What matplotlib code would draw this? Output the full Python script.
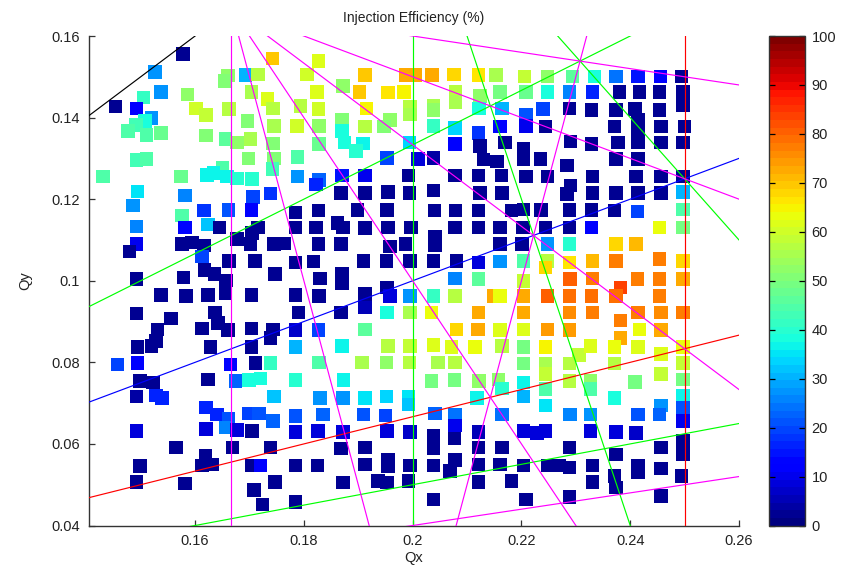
import matplotlib
matplotlib.use('Agg')
import matplotlib.pyplot as plt
import numpy as np

plt.rcParams['font.family'] = ['Liberation Sans', 'DejaVu Sans']

# ---- data: measured tunes and injection efficiency (%) ----
qx = [
 0.1578,0.1526,0.1742,0.1660,0.1655,0.1693,0.1716,0.1537,0.1505,0.1586,0.1704,0.1733,0.1454,0.1492,0.1602,0.1620,0.1662,0.1743,
 0.1520,0.1508,0.1491,0.1477,0.1511,0.1537,0.1696,0.1745,0.1787,0.1620,0.1656,0.1677,0.1702,0.1743,0.1788,0.1492,0.1511,0.1698,
 0.1745,0.1742,0.1650,0.1431,0.1574,0.1622,0.1634,0.1659,0.1677,0.1705,0.1788,0.1494,0.1581,0.1706,0.1739,
 0.1827,0.1806,0.1912,0.1987,0.2004,0.2036,0.2076,0.2121,0.2153,0.1824,0.1872,0.1902,0.1955,0.1984,0.2079,0.2124,0.2161,0.2079,
 0.1794,0.1827,0.1915,0.1995,0.1995,0.2038,0.2038,0.2122,0.2164,0.1828,0.1870,0.1870,0.1912,0.1958,0.1947,0.2038,0.2078,0.2121,
 0.2161,0.1828,0.1875,0.1909,0.1896,0.1994,0.2078,0.2124,0.2170,0.1953,0.2010,0.2038,0.2130,0.2155,0.1828,0.1822,0.1870,0.1912,
 0.1992,0.2078,0.2121,0.2163,0.1868,0.1912,0.1955,0.1994,0.2038,0.2124,0.2164,
 0.2206,0.2248,0.2294,0.2334,0.2374,0.2414,0.2456,0.2494,0.2208,0.2248,0.2288,0.2331,0.2380,0.2417,0.2454,0.2497,0.2208,0.2208,
 0.2240,0.2288,0.2329,0.2374,0.2409,0.2454,0.2497,0.2244,0.2371,0.2414,0.2414,0.2457,0.2500,0.2204,0.2204,0.2235,0.2290,0.2329,
 0.2378,0.2414,0.2457,0.2497,0.2284,0.2374,0.2414,0.2208,0.2248,0.2331,0.2411,0.2457,0.2497,0.2290,0.2284,0.2331,0.2374,0.2414,
 0.2457,0.2497,
 0.1486,0.1576,0.1616,0.1661,0.1704,0.1785,0.1492,0.1581,0.1624,0.1645,0.1705,0.1716,0.1785,0.1492,0.1479,0.1576,0.1594,0.1616,
 0.1613,0.1677,0.1702,0.1745,0.1764,0.1662,0.1710,0.1785,0.1492,0.1579,0.1617,0.1636,0.1657,0.1747,0.1537,0.1583,0.1624,0.1656,
 0.1704,0.1785,0.1492,0.1556,0.1637,0.1642,0.1613,0.1660,0.1531,0.1528,0.1494,0.1520,0.1628,0.1704,0.1743,0.1739,0.1785,0.1704,
 0.1785,0.1790,
 0.1457,0.1494,0.1665,0.1711,0.1739,0.1499,0.1523,0.1624,0.1674,0.1699,0.1720,0.1785,0.1492,0.1528,0.1539,0.1745,0.1620,0.1640,
 0.1661,0.1656,0.1699,0.1717,0.1743,0.1785,0.1492,0.1620,0.1677,0.1705,0.1785,0.1565,0.1669,0.1739,0.1619,0.1631,0.1613,0.1499,
 0.1705,0.1720,0.1785,0.1492,0.1581,0.1708,0.1747,0.1724,0.1785,
 0.1827,0.1899,0.1953,0.2040,0.2079,0.2121,0.2182,0.1862,0.1822,0.1872,0.1912,0.1955,0.1997,0.2078,0.2121,0.2161,0.2041,0.2041,
 0.1827,0.1868,0.1958,0.1987,0.2161,0.1818,0.1910,0.1952,0.1995,0.2038,0.2081,0.2121,0.2161,0.1830,0.1870,0.1870,0.2078,0.2121,
 0.1953,0.1828,0.1912,0.1958,0.1995,0.2038,0.2078,0.2150,0.2161,0.1868,0.1912,0.1953,0.1995,0.2035,0.2121,0.1827,0.1912,0.2081,
 0.2120,0.2161,0.1870,0.1955,0.1995,0.2038,0.2071,0.2115,0.2164,0.1828,0.1907,0.1952,0.1994,0.2047,0.2078,
 0.1873,0.2035,0.2077,0.2122,0.2158,0.1830,0.1872,0.1912,0.1952,0.1992,0.1992,0.2118,0.2164,0.1835,0.1910,0.1950,0.2041,0.2078,
 0.2078,0.2164,0.1826,0.1872,0.1953,0.1995,0.2038,0.2077,0.2121,0.1868,0.1912,0.2038,0.2121,0.2164,0.1825,0.1912,0.1955,0.1955,
 0.1995,0.2038,0.2078,0.2069,0.2121,0.2161,0.1872,0.1936,0.1953,0.1992,0.2121,0.2182,0.2038,
 0.2204,0.2236,0.2288,0.2329,0.2371,0.2413,0.2497,0.2203,0.2244,0.2288,0.2329,0.2454,0.2497,0.2201,0.2248,0.2288,0.2374,0.2411,
 0.2204,0.2248,0.2244,0.2288,0.2331,0.2374,0.2454,0.2497,0.2204,0.2289,0.2331,0.2382,0.2413,0.2454,0.2497,0.2204,0.2248,0.2288,
 0.2329,0.2374,0.2454,0.2204,0.2288,0.2331,0.2382,0.2414,0.2457,0.2497,0.2204,0.2248,0.2288,0.2382,0.2417,0.2457,0.2204,0.2244,
 0.2306,0.2327,0.2371,0.2414,0.2457,0.2497,0.2204,0.2244,0.2288,0.2371,
 0.2244,0.2288,0.2327,0.2327,0.2409,0.2457,0.2497,0.2497,0.2204,0.2244,0.2204,0.2244,0.2371,0.2497,0.2457,0.2497,0.2289,0.2327,
 0.2414,0.2454,0.2497,0.2204,0.2229,0.2244,0.2327,0.2374,0.2411,0.2288,0.2374,0.2457,0.2497,0.2497,0.2204,0.2248,0.2269,0.2288,
 0.2331,0.2371,0.2414,0.2414,0.2457,0.2494,0.2331,0.2374,0.2208,0.2288,0.2457,
]
qy = [
 0.1556,0.1512,0.1545,0.1503,0.1490,0.1504,0.1506,0.1463,0.1449,0.1457,0.1463,0.1446,0.1427,0.1422,0.1422,0.1406,0.1421,0.1422,
 0.1399,0.1391,0.1382,0.1367,0.1357,0.1362,0.1391,0.1379,0.1379,0.1356,0.1348,0.1339,0.1348,0.1337,0.1303,0.1296,0.1298,0.1300,
 0.1300,0.1274,0.1278,0.1255,0.1255,0.1259,0.1264,0.1255,0.1251,0.1249,0.1255,0.1219,0.1209,0.1205,0.1214,
 0.1539,0.1506,0.1504,0.1504,0.1504,0.1504,0.1506,0.1504,0.1504,0.1463,0.1478,0.1463,0.1462,0.1463,0.1463,0.1453,0.1463,0.1438,
 0.1428,0.1421,0.1422,0.1427,0.1408,0.1428,0.1418,0.1422,0.1422,0.1379,0.1394,0.1367,0.1378,0.1394,0.1378,0.1379,0.1375,0.1362,
 0.1378,0.1335,0.1339,0.1337,0.1318,0.1339,0.1335,0.1330,0.1339,0.1301,0.1298,0.1301,0.1297,0.1292,0.1247,0.1236,0.1258,0.1258,
 0.1258,0.1258,0.1258,0.1258,0.1215,0.1215,0.1217,0.1215,0.1221,0.1215,0.1215,
 0.1501,0.1501,0.1501,0.1501,0.1501,0.1501,0.1501,0.1501,0.1463,0.1463,0.1463,0.1463,0.1463,0.1463,0.1463,0.1463,0.1406,0.1379,
 0.1421,0.1422,0.1419,0.1419,0.1421,0.1419,0.1431,0.1378,0.1378,0.1394,0.1370,0.1378,0.1378,0.1323,0.1298,0.1298,0.1341,0.1335,
 0.1339,0.1339,0.1339,0.1339,0.1283,0.1298,0.1298,0.1255,0.1255,0.1255,0.1255,0.1255,0.1255,0.1234,0.1213,0.1215,0.1215,0.1215,
 0.1215,0.1217,
 0.1185,0.1160,0.1172,0.1173,0.1173,0.1167,0.1133,0.1131,0.1138,0.1131,0.1117,0.1131,0.1131,0.1090,0.1072,0.1090,0.1094,0.1086,
 0.1060,0.1102,0.1090,0.1090,0.1091,0.1049,0.1049,0.1045,0.1004,0.1008,0.1026,0.1016,0.1001,0.1016,0.0965,0.0963,0.0965,0.0969,
 0.0965,0.0965,0.0920,0.0908,0.0922,0.0897,0.0883,0.0879,0.0881,0.0852,0.0838,0.0840,0.0838,0.0883,0.0881,0.0860,0.0879,0.0838,
 0.0838,0.0922,
 0.0795,0.0798,0.0795,0.0798,0.0798,0.0754,0.0751,0.0758,0.0754,0.0757,0.0760,0.0757,0.0716,0.0719,0.0713,0.0716,0.0689,0.0672,
 0.0662,0.0640,0.0675,0.0675,0.0656,0.0668,0.0632,0.0637,0.0634,0.0632,0.0629,0.0591,0.0591,0.0591,0.0570,0.0550,0.0547,0.0546,
 0.0547,0.0547,0.0547,0.0506,0.0503,0.0487,0.0506,0.0452,0.0457,
 0.1172,0.1173,0.1173,0.1172,0.1172,0.1172,0.1172,0.1142,0.1131,0.1131,0.1129,0.1131,0.1131,0.1131,0.1131,0.1131,0.1107,0.1086,
 0.1090,0.1090,0.1084,0.1090,0.1090,0.1047,0.1049,0.1049,0.1049,0.1049,0.1049,0.1045,0.1047,0.1006,0.1016,0.0995,0.1006,0.1004,
 0.0983,0.0963,0.0967,0.0963,0.0963,0.0963,0.0963,0.0963,0.0963,0.0922,0.0934,0.0922,0.0922,0.0922,0.0922,0.0879,0.0881,0.0881,
 0.0881,0.0879,0.0840,0.0840,0.0840,0.0842,0.0838,0.0838,0.0840,0.0800,0.0800,0.0800,0.0800,0.0800,0.0800,
 0.0757,0.0754,0.0757,0.0754,0.0758,0.0713,0.0713,0.0713,0.0716,0.0716,0.0697,0.0713,0.0736,0.0672,0.0672,0.0670,0.0675,0.0672,
 0.0645,0.0672,0.0632,0.0629,0.0632,0.0629,0.0619,0.0613,0.0629,0.0589,0.0591,0.0589,0.0591,0.0591,0.0547,0.0550,0.0562,0.0546,
 0.0547,0.0547,0.0560,0.0533,0.0550,0.0550,0.0505,0.0509,0.0505,0.0509,0.0506,0.0509,0.0464,
 0.1175,0.1173,0.1173,0.1173,0.1172,0.1170,0.1175,0.1131,0.1131,0.1131,0.1131,0.1131,0.1131,0.1090,0.1090,0.1090,0.1090,0.1090,
 0.1049,0.1049,0.1033,0.1045,0.1049,0.1049,0.1053,0.1049,0.0999,0.1004,0.1006,0.0983,0.1004,0.1004,0.1004,0.0963,0.0963,0.0963,
 0.0963,0.0963,0.0963,0.0922,0.0922,0.0922,0.0903,0.0922,0.0922,0.0922,0.0881,0.0881,0.0879,0.0860,0.0881,0.0879,0.0837,0.0838,
 0.0818,0.0840,0.0838,0.0838,0.0820,0.0838,0.0797,0.0797,0.0797,0.0797,
 0.0771,0.0754,0.0754,0.0734,0.0752,0.0771,0.0798,0.0758,0.0751,0.0734,0.0716,0.0694,0.0713,0.0717,0.0694,0.0688,0.0672,0.0672,
 0.0672,0.0672,0.0656,0.0632,0.0627,0.0632,0.0632,0.0629,0.0627,0.0591,0.0574,0.0591,0.0607,0.0574,0.0547,0.0547,0.0547,0.0542,
 0.0547,0.0521,0.0547,0.0531,0.0540,0.0522,0.0506,0.0493,0.0464,0.0470,0.0472,
]
eff = [
 3,28,70,52,50,30,57,28,42,53,55,62,3,12,60,58,57,57,
 28,38,43,45,45,48,50,55,60,50,46,52,55,50,45,43,45,50,
 50,43,45,45,48,36,37,37,40,40,28,35,26,20,18,
 61,60,70,73,73,72,68,67,56,61,52,69,66,65,57,52,49,56,
 57,60,65,57,56,56,53,38,31,52,50,38,57,52,50,41,34,18,
 13,48,38,37,40,33,11,3,3,20,9,4,3,3,23,16,15,10,
 3,3,3,3,3,3,3,3,3,3,3,
 58,52,46,38,24,15,12,3,48,38,26,17,3,3,3,3,21,10,
 20,3,3,3,3,3,3,3,3,3,3,3,3,3,3,3,3,3,
 3,3,3,3,3,3,3,3,3,3,3,3,3,3,3,3,3,3,
 3,30,
 28,45,18,21,12,3,26,13,32,3,3,3,3,10,3,3,3,3,
 19,3,3,3,3,3,3,3,3,3,3,3,3,3,3,3,3,3,
 3,3,3,3,3,3,3,3,3,3,3,3,3,3,3,3,7,3,
 30,3,
 19,11,13,3,42,3,3,3,22,38,38,40,4,16,17,32,16,17,
 21,26,20,21,22,21,9,9,8,3,9,3,3,3,3,3,3,3,
 3,12,3,3,3,3,3,3,3,
 3,3,3,3,3,3,3,3,3,3,3,3,3,3,3,3,3,3,
 3,3,3,3,3,3,3,3,3,3,3,8,27,3,3,3,26,46,
 3,3,3,9,27,42,57,72,63,3,6,38,56,63,72,19,46,68,
 72,62,36,57,58,62,61,63,57,44,56,52,57,56,57,
 36,49,49,52,52,28,27,35,34,35,32,37,40,22,21,20,22,24,
 10,24,8,8,8,7,3,3,5,3,3,3,3,3,3,3,3,3,
 3,3,3,3,3,3,3,3,3,3,3,3,3,
 3,3,3,3,3,19,45,3,3,3,12,63,49,3,28,40,68,71,
 44,57,68,67,71,78,77,68,58,81,78,83,78,77,73,72,80,79,
 79,79,78,72,76,77,77,77,76,78,62,74,74,72,63,72,49,65,
 58,62,63,62,62,63,49,56,57,57,
 58,57,52,45,49,58,58,49,36,44,30,35,39,37,28,21,25,27,
 21,22,10,9,8,9,8,8,7,3,3,3,3,3,3,3,3,3,
 3,3,3,3,3,3,3,3,3,3,3,
]

# resonance lines a*Qx + b*Qy = c, coloured by order |a|+|b|
res_a = [1, 1, 4, 1, 5, 1, 2, 4, 3, 6, 1, 5, 5, 1, 4, 2, 3]
res_b = [-1, -2, 0, -3, 0, -4, -3, 1, 2, 0, -5, 1, -1, 5, 2, 4, 3]
res_c = [0, 0, 1, 0, 1, 0, 0, 1, 1, 1, 0, 1, 1, 1, 1, 1, 1]
order_colors = {2: 'black', 3: 'blue', 4: 'red', 5: '#00ff00', 6: 'magenta'}

x_lim = (0.1404, 0.26)
y_lim = (0.04, 0.16)
x_ticks = [0.16, 0.18, 0.20, 0.22, 0.24, 0.26]
x_ticklabels = ['0.16', '0.18', '0.2', '0.22', '0.24', '0.26']
y_ticks = [0.04, 0.06, 0.08, 0.10, 0.12, 0.14, 0.16]
y_ticklabels = ['0.04', '0.06', '0.08', '0.1', '0.12', '0.14', '0.16']
cb_ticks = list(range(0, 101, 10))

W, H = 852, 568
fig = plt.figure(figsize=(W / 100, H / 100), dpi=100)
ax = fig.add_axes([88.5 / W, (H - 525.5) / H, (739 - 88.5) / W, (525.5 - 36) / H])
cax = fig.add_axes([768.5 / W, (H - 525.5) / H, 36 / W, (525.5 - 36) / H])

cmap = plt.get_cmap('jet', 64)
sc = ax.scatter(qx, qy, c=eff, cmap=cmap, vmin=0, vmax=100, marker='s', s=95,
                linewidths=0, zorder=2)

xs = np.array(x_lim)
for a, b, c in zip(res_a, res_b, res_c):
    col = order_colors[abs(a) + abs(b)]
    if b == 0:
        ax.plot([c / a, c / a], list(y_lim), color=col, lw=0.85, zorder=3)
    else:
        ax.plot(xs, (c - a * xs) / b, color=col, lw=0.85, zorder=3)

ax.set_xlim(*x_lim)
ax.set_ylim(*y_lim)
ax.set_xticks(x_ticks)
ax.set_xticklabels(x_ticklabels)
ax.set_yticks(y_ticks)
ax.set_yticklabels(y_ticklabels)
for s in ['top', 'right']:
    ax.spines[s].set_visible(False)
for s in ['left', 'bottom']:
    ax.spines[s].set_color('#333333')
    ax.spines[s].set_linewidth(1.0)
ax.tick_params(direction='in', length=4.5, width=0.9, labelsize=10.5, colors='#333333',
               labelcolor='#222222', pad=6)
ax.set_xlabel('Qx', fontsize=10.5, color='#222222', labelpad=2)
ax.set_ylabel('Qy', fontsize=10.5, color='#222222', labelpad=14)
ax.set_title('Injection Efficiency (%)', fontsize=10, color='#222222', pad=10)

cb = fig.colorbar(sc, cax=cax)
cb.set_ticks(cb_ticks)
cb.outline.set_linewidth(1.0)
cb.outline.set_edgecolor('#333333')
cax.tick_params(direction='in', left=True, right=True, length=4.5, width=0.9,
                labelsize=10.5, labelcolor='#222222', pad=5)

fig.savefig('out.png', dpi=100)
